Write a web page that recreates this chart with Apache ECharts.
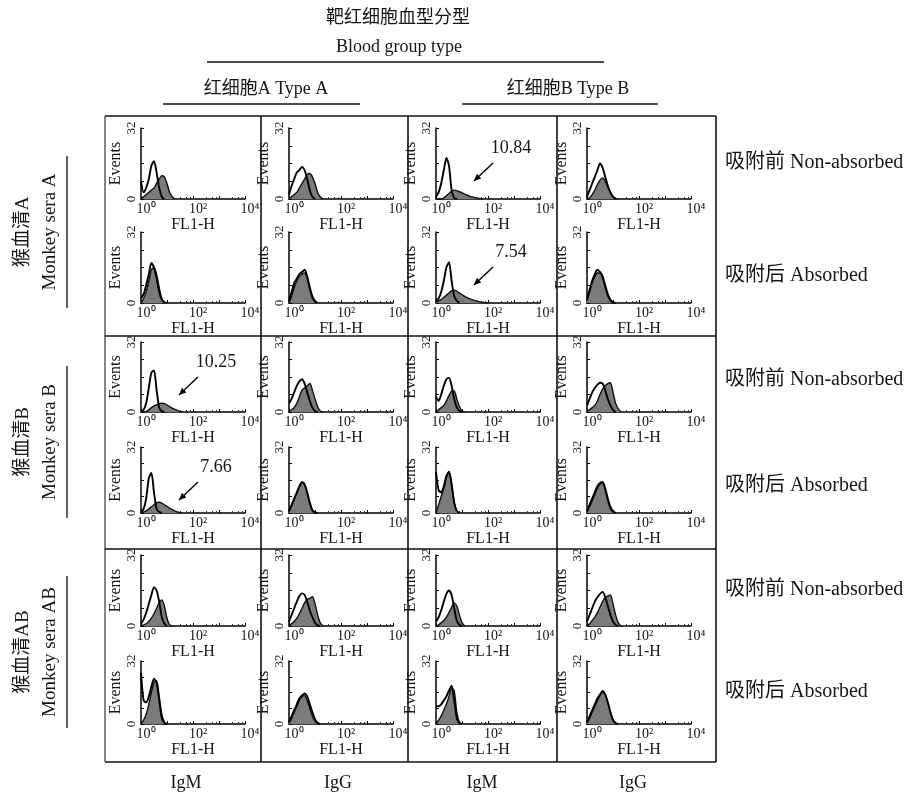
<!DOCTYPE html>
<html>
<head>
<meta charset="utf-8">
<script src="https://cdn.jsdelivr.net/npm/echarts@6/dist/echarts.min.js"></script>
<style>
  html, body { margin: 0; padding: 0; background: #fff; }
  #chart { width: 905px; height: 794px; }
</style>
</head>
<body>
<div id="chart"></div>
<script>
// FL1-H channel bins, 0.1 decade apart
const bins = [1, 1.26, 1.58, 2, 2.51, 3.16, 3.98, 5.01, 6.31, 7.94, 10, 12.6, 15.8, 20, 25.1, 31.6, 39.8, 50.1, 63.1, 79.4, 100];

const antibodies = ['IgM', 'IgG', 'IgM', 'IgG'];
const cellTypes = ['红细胞A Type A', '红细胞B Type B'];
const sera = [['猴血清A', 'Monkey sera A'], ['猴血清B', 'Monkey sera B'], ['猴血清AB', 'Monkey sera AB']];
const states = ['吸附前 Non-absorbed', '吸附后 Absorbed'];

// open (control) histograms, 4 columns per row
const openRow1 = [
  [8, 3, 5, 9, 15, 17, 12, 5, 1, 0],
  [2, 6, 9, 12, 13, 14.5, 13, 9, 4, 1, 0],
  [1, 3, 7, 13, 18.5, 15, 4, 0.5, 0],
  [1, 4, 7, 10, 13, 16, 14, 10, 6, 3, 1, 0]
];
const openRow2 = [
  [2, 4, 8, 13, 18, 16, 11, 5, 1.5, 0],
  [1, 5, 9, 11, 13, 14, 15, 12, 7, 3, 1, 0],
  [1, 2, 5, 10, 16, 18.4, 10, 3, 1, 0],
  [2, 6, 10, 13, 15, 14, 12, 8, 4, 1.5, 0.3, 0]
];
const openRow3 = [
  [0.5, 1, 4, 11, 18, 19, 10, 2, 0.3, 0],
  [4, 6, 9, 12, 14, 15, 13, 9, 5, 2, 0.5, 0],
  [7, 5, 8, 12, 15, 15.6, 12, 6, 2, 0.5, 0],
  [3, 6, 9, 11, 12.5, 13.4, 13, 10, 6, 3, 1, 0]
];
const openRow4 = [
  [0.5, 2, 7, 17, 19.4, 10, 2, 0.5, 0],
  [1, 4, 7, 10, 13, 15, 14, 10, 5, 1.5, 0.3, 0],
  [20, 11, 10, 13, 18, 20, 14, 5, 1, 0],
  [1, 4, 7, 10, 13, 14.5, 15, 12, 7, 3, 1, 0]
];
const openRow5 = [
  [1, 3, 6, 10, 14, 17.5, 16, 11, 4, 1, 0],
  [2, 5, 8, 11, 13.5, 14.7, 14, 11, 7, 4, 1.5, 0.3, 0],
  [2, 4, 7, 11, 14.5, 16, 14, 8, 2.5, 0.5, 0],
  [2, 5, 8, 11, 13, 14.5, 15.4, 13, 9, 5, 2, 0.5, 0]
];
const openRow6 = [
  [26, 12, 11, 14, 19, 23, 21, 12, 3, 0.5, 0],
  [1, 4, 7, 10, 13, 14.5, 15.5, 14, 10, 6, 2.5, 0.5, 0],
  [9, 9, 10, 12, 14, 17, 19.4, 12, 3, 0.5, 0],
  [1, 4, 7, 10, 13, 15, 16.8, 15, 11, 6, 2, 0.5, 0]
];

// filled (sample) histograms
const fillRow1 = [
  [0, 1, 2, 3, 4, 5, 7, 9, 10.5, 10, 7, 3, 1, 0],
  [0, 1, 2, 3, 5, 7, 9, 11, 11.5, 10, 7, 3, 1, 0],
  [0, 0, 0, 0.5, 1.5, 2.5, 3.5, 4, 3.8, 3.3, 2.8, 2.2, 1.7, 1.2, 0.9, 0.6, 0.4, 0.2, 0],
  [0, 0.5, 2, 4, 6.5, 8.5, 9.5, 8, 5.5, 3, 1.2, 0.3, 0]
];
const fillRow2 = [
  [0, 2, 5, 10, 15, 16, 13, 7, 2, 0.5, 0],
  [0, 3, 7, 10, 12, 13, 13.5, 11, 6, 2, 0.5, 0],
  [0.5, 1, 1.5, 2.5, 3.5, 4.5, 5.5, 5.8, 5.3, 4.5, 3.8, 3, 2.4, 1.9, 1.5, 1.1, 0.8, 0.5, 0.3, 0.1, 0],
  [1, 5, 9, 12, 13.5, 13.5, 11, 7, 3, 1, 0]
];
const fillRow3 = [
  [0, 0, 0.3, 1, 2, 2.8, 3.3, 3.8, 4, 3.8, 3.2, 2.5, 1.8, 1.2, 0.7, 0.3, 0],
  [0, 1, 2, 4, 7, 10, 11, 12, 13, 10, 6, 2.5, 0.5, 0],
  [0, 1, 2, 3, 5, 7.5, 9.5, 9.6, 6, 2.5, 0.5, 0],
  [0, 1, 2, 3, 5, 8, 10.5, 12, 13, 13.4, 9, 4, 1.5, 0]
];
const fillRow4 = [
  [0.2, 0.5, 1, 2, 3, 4, 5, 5.2, 4.8, 4, 3.2, 2.4, 1.6, 1, 0.5, 0.2, 0],
  [0.5, 3.5, 6.5, 9.5, 12.5, 14.7, 13.5, 9.5, 4.5, 1, 0],
  [0, 4, 8, 12, 17, 20, 14, 5, 1, 0],
  [0.5, 3, 6, 9, 12, 14, 14.5, 11, 6, 2, 0.5, 0]
];
const fillRow5 = [
  [0, 0.5, 1, 2, 3.5, 5.5, 8, 10.5, 11.7, 9, 3.5, 0.5, 0],
  [0, 1, 2, 3.5, 5.5, 8, 10.5, 12, 12.5, 13.2, 10, 5, 1.5, 0],
  [0, 0.5, 1.5, 2.5, 4, 6, 8.5, 10.3, 9, 5, 1.5, 0],
  [0, 1, 2.5, 4, 6, 8.5, 11, 13, 13.5, 14, 10, 5, 1.5, 0]
];
const fillRow6 = [
  [0, 2, 5, 10, 16, 21, 22, 14, 5, 1, 0],
  [0.5, 3, 6, 9, 12, 14, 14.5, 12, 8, 4, 1.5, 0.3, 0],
  [0, 2, 4, 7, 10, 14, 18, 17, 6, 1, 0],
  [0.5, 3, 6, 9, 12, 14.5, 16, 15, 11, 6, 2, 0.3, 0]
];

// positive percentages marked with arrows
const positiveRates = [
  { row: 0, col: 2, rate: '10.84' },
  { row: 1, col: 2, rate: '7.54' },
  { row: 2, col: 0, rate: '10.25' },
  { row: 3, col: 0, rate: '7.66' }
];

const openRows = [openRow1, openRow2, openRow3, openRow4, openRow5, openRow6];
const fillRows = [fillRow1, fillRow2, fillRow3, fillRow4, fillRow5, fillRow6];

// layout
const colLeft = [141, 289, 436, 587];
const plotWidth = 104;
const rowTop = [128, 232, 342, 447, 555, 661];
const rowHeight = [71, 71, 70, 66, 71, 63];
const FONT = "'Liberation Serif', 'Times New Roman', 'Noto Sans CJK SC', serif";
const INK = '#151515';
const SUP = { 0: '\u2070', 2: '\u00B2', 4: '\u2074' };

const chart = echarts.init(document.getElementById('chart'), null, { renderer: 'canvas' });

const grids = [], xAxes = [], yAxes = [], series = [];

function toPoints(counts) {
  return counts.map((v, i) => [bins[i], v]);
}

for (let r = 0; r < 6; r++) {
  for (let c = 0; c < 4; c++) {
    const idx = r * 4 + c;
    grids.push({
      left: colLeft[c], top: rowTop[r], width: plotWidth, height: rowHeight[r],
      outerBoundsMode: 'none', containLabel: false
    });
    xAxes.push({
      type: 'log', gridIndex: idx, min: 1, max: 10000, logBase: 10,
      name: 'FL1-H', nameLocation: 'middle', nameGap: 18,
      nameTextStyle: { fontFamily: FONT, fontSize: 16, color: INK },
      axisLine: { lineStyle: { color: '#000', width: 1.5 } },
      axisTick: { inside: true, length: 3, lineStyle: { color: '#000' } },
      minorTick: { show: true, splitNumber: 4, length: 2, lineStyle: { color: '#333' } },
      splitLine: { show: false },
      minorSplitLine: { show: false },
      axisLabel: {
        fontFamily: FONT, fontSize: 14, color: INK, margin: 3,
        padding: [0, 0, 0, 10],
        formatter: v => {
          const e = Math.round(Math.log10(v));
          return SUP[e] !== undefined ? '10' + SUP[e] : '';
        }
      }
    });
    yAxes.push({
      type: 'value', gridIndex: idx, min: 0, max: 32, interval: 8,
      name: 'Events', nameLocation: 'middle', nameGap: 14, nameRotate: 90,
      nameTextStyle: { fontFamily: FONT, fontSize: 16, color: INK },
      axisLine: { show: true, lineStyle: { color: '#000', width: 1.5 } },
      axisTick: { show: true, inside: true, length: 3, lineStyle: { color: '#000' } },
      splitLine: { show: false },
      axisLabel: {
        rotate: 90, fontFamily: FONT, fontSize: 13, color: INK, margin: 3,
        formatter: v => (v === 0 || v === 32) ? String(v) : ''
      }
    });
    series.push({
      type: 'line', xAxisIndex: idx, yAxisIndex: idx,
      data: toPoints(fillRows[r][c]),
      symbol: 'none', smooth: 0.25,
      lineStyle: { color: '#111', width: 1.4 },
      areaStyle: { color: '#7b7b7b', opacity: 1 },
      silent: true, animation: false, z: 2
    });
    series.push({
      type: 'line', xAxisIndex: idx, yAxisIndex: idx,
      data: toPoints(openRows[r][c]),
      symbol: 'none', smooth: 0.25,
      lineStyle: { color: '#000', width: 1.9 },
      silent: true, animation: false, z: 3
    });
  }
}

// frame, headers and side labels
const graphic = [];
function line(x1, y1, x2, y2, w, color) {
  graphic.push({ type: 'line', shape: { x1, y1, x2, y2 }, style: { stroke: color || '#111', lineWidth: w || 1.5 }, silent: true });
}
function text(t, x, y, size, opts) {
  graphic.push(Object.assign({
    type: 'text', x, y, silent: true,
    style: { text: t, fontFamily: FONT, fontSize: size, fill: INK, textAlign: 'center', textVerticalAlign: 'middle' }
  }, opts || {}));
}

// outer box and dividers
const boxL = 105, boxR = 716, boxT = 116, boxB = 762;
line(boxL, boxT, boxR, boxT, 1.6);
line(boxL, boxB, boxR, boxB, 1.6);
line(boxL, boxT, boxL, boxB, 1.3, '#444');
line(boxR, boxT, boxR, boxB, 1.6);
[261, 408, 557].forEach(x => line(x, boxT, x, boxB, 1.6));
[336, 549].forEach(y => line(boxL, y, boxR, y, 1.6));

// headers
text('靶红细胞血型分型', 398, 18, 18);
text('Blood group type', 399, 47, 18);
line(207, 62, 604, 62, 1.5);
text(cellTypes[0], 266, 89, 18);
line(163, 104, 360, 104, 1.5);
text(cellTypes[1], 568, 89, 18);
line(462, 104, 658, 104, 1.5);

// sera labels (vertical)
const seraCenter = [232, 442, 652];
sera.forEach((s, i) => {
  text(s[0], 23, seraCenter[i], 19, { rotation: Math.PI / 2 });
  text(s[1], 50, seraCenter[i], 19, { rotation: Math.PI / 2 });
  line(67, seraCenter[i] - 76, 67, seraCenter[i] + 76, 1.3);
});

// state labels on the right
const stateCenter = [163, 276, 380, 486, 590, 692];
stateCenter.forEach((y, r) => {
  graphic.push({
    type: 'text', x: 725, y: y, silent: true,
    style: { text: states[r % 2], fontFamily: FONT, fontSize: 20, fill: INK, textAlign: 'left', textVerticalAlign: 'middle' }
  });
});

// antibody labels at bottom
const colCenter = [186, 338, 482, 633];
antibodies.forEach((a, i) => text(a, colCenter[i], 783, 18));

// positive rate annotations with arrows
positiveRates.forEach(p => {
  const gx = colLeft[p.col], gy = rowTop[p.row];
  text(p.rate, gx + 75, gy + 20, 18);
  const sx = gx + 57, sy = gy + 35, ex = gx + 38, ey = gy + 53;
  line(sx, sy, ex, ey, 1.4, '#000');
  const len = Math.hypot(ex - sx, ey - sy);
  const dx = (ex - sx) / len, dy = (ey - sy) / len;
  const hx = ex - dx * 7, hy = ey - dy * 7;
  graphic.push({
    type: 'polygon', silent: true,
    shape: { points: [[ex, ey], [hx - dy * 3.2, hy + dx * 3.2], [hx + dy * 3.2, hy - dx * 3.2]] },
    style: { fill: '#000' }
  });
});

chart.setOption({
  backgroundColor: '#fff',
  animation: false,
  grid: grids,
  xAxis: xAxes,
  yAxis: yAxes,
  series: series,
  graphic: graphic
});
</script>
</body>
</html>
